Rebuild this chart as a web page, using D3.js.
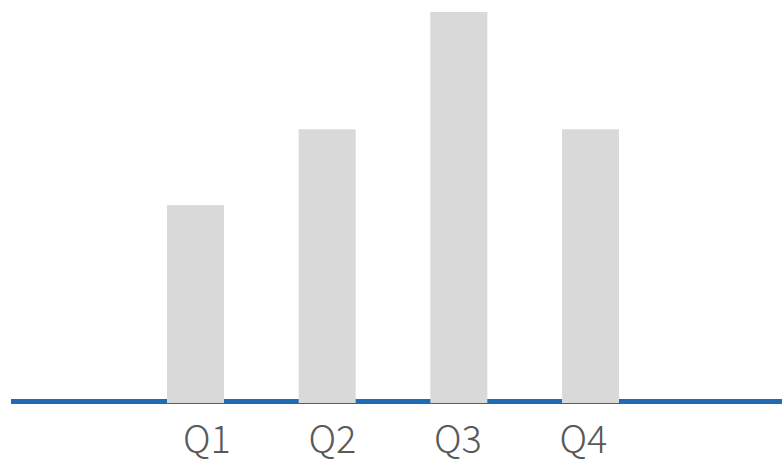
<!DOCTYPE html>
<html>
<head>
<meta charset="utf-8">
<script src="https://cdn.jsdelivr.net/npm/d3@7"></script>
<style>
  body { margin: 0; background: #fff; }
  svg { display: block; }
</style>
</head>
<body>
<svg id="chart" width="782" height="462"></svg>
<script>
const quarters = ["Q1", "Q2", "Q3", "Q4"];
const values = [50.6, 70, 100, 70];

const width = 782;
const height = 462;

const svg = d3.select("#chart");

// bars and labels sit on slightly different spacing in the original
const x = d3.scalePoint().domain(quarters).range([195.5, 590.5]);
const xLabel = d3.scalePoint().domain(quarters).range([207, 583.5]);
const y = d3.scaleLinear().domain([0, 100]).range([403, 12]);

const barW = 57;

// baseline
svg.append("line")
  .attr("x1", 11)
  .attr("x2", width)
  .attr("y1", 401.5)
  .attr("y2", 401.5)
  .attr("stroke", "#1f6bb4")
  .attr("stroke-width", 5);

// bars
svg.append("g")
  .selectAll("rect")
  .data(quarters)
  .join("rect")
  .attr("x", d => x(d) - barW / 2)
  .attr("y", (d, i) => y(values[i]))
  .attr("width", barW)
  .attr("height", (d, i) => y(0) - y(values[i]))
  .attr("fill", "#d9d9d9");

// category labels
svg.append("g")
  .selectAll("text")
  .data(quarters)
  .join("text")
  .attr("x", d => xLabel(d))
  .attr("y", 453)
  .attr("text-anchor", "middle")
  .attr("font-family", "'Noto Sans CJK JP', 'Noto Sans', sans-serif")
  .attr("font-weight", 300)
  .attr("font-size", 38)
  .attr("fill", "#595959")
  .text(d => d);
</script>
</body>
</html>
